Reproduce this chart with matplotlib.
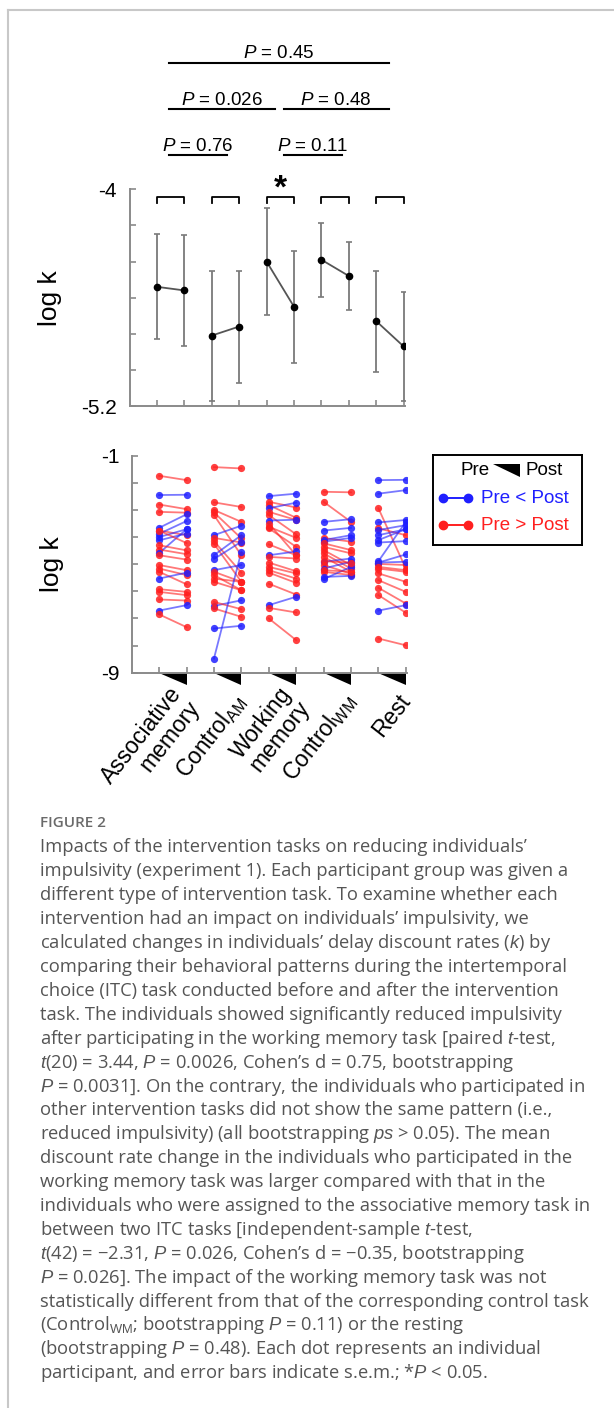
import numpy as np
import matplotlib
matplotlib.use("Agg")
import matplotlib.pyplot as plt
from matplotlib.patches import Polygon
from matplotlib.lines import Line2D

plt.rcParams['font.family'] = ['Liberation Sans', 'DejaVu Sans']
plt.rcParams['axes.unicode_minus'] = False
plt.rcParams['mathtext.fontset'] = 'custom'
plt.rcParams['mathtext.rm'] = 'Liberation Sans'
plt.rcParams['mathtext.it'] = 'Liberation Sans:italic'
plt.rcParams['mathtext.bf'] = 'Liberation Sans:bold'

# group names (x tick labels of the lower panel)
groups = ["Associative\nmemory", "Control$_{\\mathrm{AM}}$", "Working\nmemory",
          "Control$_{\\mathrm{WM}}$", "Rest"]

# upper panel: group mean log k and s.e.m.
mean_pre  = [-4.54, -4.81, -4.40, -4.39, -4.73]
mean_post = [-4.56, -4.76, -4.65, -4.48, -4.87]
sem_pre   = [0.29, 0.36, 0.295, 0.205, 0.28]
sem_post  = [0.305, 0.31, 0.31, 0.19, 0.30]

top_yticks  = [-5.2, -5.0, -4.8, -4.6, -4.4, -4.2, -4.0]
top_ylabels = ["-5.2", "", "", "", "", "", "-4"]

# comparisons: label, x from, x to, line y, text y (top panel data units)
comparisons = [
    ("0.45",  1.44, 9.47, -3.302, -3.272),
    ("0.026", 1.44, 5.30, -3.557, -3.535),
    ("0.48",  5.62, 9.47, -3.557, -3.535),
    ("0.76",  1.44, 3.57, -3.812, -3.788),
    ("0.11",  5.62, 7.74, -3.812, -3.788),
]
signif_group = 2

# lower panel: individual log k, pre and post
am_pre   = [-1.74, -2.45, -2.80, -3.07, -3.66, -3.76, -3.88, -4.00, -4.12, -4.46, -4.59, -5.03,
            -5.16, -5.28, -5.53, -5.92, -6.02, -6.30, -6.71, -6.85, -3.76, -4.30, -4.67]
am_post  = [-1.90, -2.44, -2.97, -3.10, -3.16, -3.93, -3.41, -3.71, -3.87, -4.63, -3.71, -5.22,
            -5.40, -5.74, -5.31, -6.02, -6.14, -6.34, -6.51, -7.32, -4.22, -4.49, -4.83]
cam_pre  = [-1.42, -2.72, -3.00, -3.09, -3.19, -3.93, -4.03, -4.15, -4.25, -4.67, -4.81,
            -5.22, -5.28, -5.40, -5.53, -6.54, -6.39, -6.63, -7.37, -8.48, -5.65]
cam_post = [-1.47, -2.89, -3.44, -4.05, -4.67, -3.58, -4.20, -5.31, -5.65, -3.93, -4.17,
            -5.03, -5.65, -5.96, -5.65, -6.33, -6.66, -6.94, -7.27, -4.54, -5.96]
wm_pre   = [-2.49, -2.70, -2.82, -2.94, -3.07, -3.19, -3.39, -3.62, -3.68, -4.27, -4.67,
            -4.94, -5.10, -5.22, -5.31, -5.72, -6.51, -6.61, -7.00, -4.73, -3.50]
wm_post  = [-2.40, -2.91, -3.29, -2.73, -3.37, -3.90, -3.36, -4.03, -4.36, -4.67, -4.53,
            -5.26, -5.34, -5.53, -5.69, -6.12, -6.20, -6.78, -7.80, -4.79, -4.67]
cwm_pre  = [-2.33, -2.70, -3.44, -3.76, -4.03, -4.11, -4.17, -4.23, -4.36, -4.48,
            -4.60, -4.73, -4.91, -5.03, -5.16, -5.28, -5.47, -5.55, -4.89, -5.22]
cwm_post = [-2.35, -3.44, -3.34, -3.66, -4.17, -3.93, -4.03, -4.48, -4.60, -5.03,
            -5.16, -5.28, -4.79, -5.35, -4.91, -5.40, -5.43, -5.10, -4.94, -5.28]
rest_pre  = [-1.90, -2.40, -2.94, -3.46, -3.68, -3.74, -3.93, -4.11, -4.20, -4.89, -4.94,
             -4.99, -4.94, -5.16, -5.34, -5.59, -5.87, -6.14, -6.71, -7.74, -5.10]
rest_post = [-1.89, -2.27, -5.16, -3.37, -3.93, -3.56, -3.71, -3.71, -4.15, -3.44, -4.64,
             -5.03, -4.91, -5.28, -5.65, -6.02, -6.45, -6.79, -6.51, -7.99, -5.22]

pre_sets  = [am_pre, cam_pre, wm_pre, cwm_pre, rest_pre]
post_sets = [am_post, cam_post, wm_post, cwm_post, rest_post]

bot_yticks  = [-9, -8, -7, -6, -5, -4, -3, -2, -1]
bot_ylabels = ["-9", "", "", "", "", "", "", "", "-1"]

caption_title = "FIGURE 2"
caption_lines = [
    "Impacts of the intervention tasks on reducing individuals\u2019",
    "impulsivity (experiment 1). Each participant group was given a",
    "different type of intervention task. To examine whether each",
    "intervention had an impact on individuals\u2019 impulsivity, we",
    "calculated changes in individuals\u2019 delay discount rates ($k$) by",
    "comparing their behavioral patterns during the intertemporal",
    "choice (ITC) task conducted before and after the intervention",
    "task. The individuals showed significantly reduced impulsivity",
    "after participating in the working memory task [paired $t$-test,",
    "$t$(20) = 3.44, $P$ = 0.0026, Cohen\u2019s d = 0.75, bootstrapping",
    "$P$ = 0.0031]. On the contrary, the individuals who participated in",
    "other intervention tasks did not show the same pattern (i.e.,",
    "reduced impulsivity) (all bootstrapping $ps$ > 0.05). The mean",
    "discount rate change in the individuals who participated in the",
    "working memory task was larger compared with that in the",
    "individuals who were assigned to the associative memory task in",
    "between two ITC tasks [independent-sample $t$-test,",
    "$t$(42) = \u22122.31, $P$ = 0.026, Cohen\u2019s d = \u22120.35, bootstrapping",
    "$P$ = 0.026]. The impact of the working memory task was not",
    "statistically different from that of the corresponding control task",
    "(Control$_{\\mathrm{WM}}$; bootstrapping $P$ = 0.11) or the resting",
    "(bootstrapping $P$ = 0.48). Each dot represents an individual",
    "participant, and error bars indicate s.e.m.; *$P$ < 0.05.",
]

W, H = 614, 1408
AX_GRAY = '#8a8a8a'


def px_rect(left, top, width, height):
    return [left / W, 1 - (top + height) / H, width / W, height / H]


def style_axes(ax, yticks, ylabels, ylim):
    ax.set_xlim(0, 10.05)
    ax.set_ylim(ylim)
    for s in ['top', 'right']:
        ax.spines[s].set_visible(False)
    for s in ['left', 'bottom']:
        ax.spines[s].set_color(AX_GRAY)
        ax.spines[s].set_linewidth(1.4)
    ax.set_yticks(yticks)
    ax.set_yticklabels(ylabels)
    ax.set_xticks(np.arange(1, 11))
    ax.set_xticklabels([])
    ax.tick_params(direction='in', length=4, width=1.2, color=AX_GRAY,
                   labelsize=15, pad=9)
    ax.set_ylabel("log k", fontsize=19)
    ax.yaxis.set_label_coords(-0.245, 0.5)


fig = plt.figure(figsize=(W / 100, H / 100), dpi=100)

# frame
fig.add_artist(Line2D([8 / W, 1], [1 - 10 / H] * 2, color='#c8c8c8', lw=1.5))
fig.add_artist(Line2D([8 / W] * 2, [0, 1 - 10 / H], color='#c8c8c8', lw=1.5))

# ---- upper panel ----
ax1 = fig.add_axes(px_rect(129.5, 189.3, 275.5, 216.7))
style_axes(ax1, top_yticks, top_ylabels, (-5.2, -4.0))

for i in range(len(groups)):
    xs = [2 * i + 1, 2 * i + 2]
    ys = [mean_pre[i], mean_post[i]]
    ax1.errorbar(xs, ys, yerr=[sem_pre[i], sem_post[i]], fmt='none',
                 ecolor='#7a7a7a', elinewidth=1.3, capsize=2, capthick=1.2, zorder=2)
    ax1.plot(xs, ys, '-', color='#555555', lw=1.3, zorder=3)
    ax1.plot(xs, ys, 'o', color='black', ms=4.5, zorder=4)
    # bracket above each pair
    ax1.plot([xs[0], xs[0], xs[1], xs[1]], [-4.075, -4.04, -4.04, -4.075],
             color='black', lw=1.3, clip_on=False)

ax1.text(2 * signif_group + 1.5, -4.045, "*", ha='center', va='baseline',
         fontsize=24, fontweight='bold')

for label, x0, x1, yl, yt in comparisons:
    ax1.plot([x0, x1], [yl, yl], color='black', lw=1.5, clip_on=False)
    ax1.text((x0 + x1) / 2, yt, "$P$ = " + label, ha='center', va='baseline',
             fontsize=13.5, clip_on=False)

# ---- lower panel ----
ax2 = fig.add_axes(px_rect(131.7, 455.7, 275.5, 217.0))
style_axes(ax2, bot_yticks, bot_ylabels, (-9, -1))

for i, (pre, post) in enumerate(zip(pre_sets, post_sets)):
    xp, xq = 2 * i + 1, 2 * i + 2
    for a, b in zip(pre, post):
        c = '#1f1fff' if a < b else '#ff1f1f'
        ax2.plot([xp, xq], [a, b], '-', color=c, lw=1.3, alpha=0.6, zorder=2)
        ax2.plot([xp, xq], [a, b], 'o', color=c, ms=5.2, mec='none', alpha=0.85, zorder=3)
    ax2.add_patch(Polygon([(xp, -9), (xq, -9), (xq, -9.47)], closed=True,
                          facecolor='black', edgecolor='none', clip_on=False))
    ax2.text(xq, -0.112, groups[i], transform=ax2.get_xaxis_transform(),
             ha='right', va='center', rotation=52, rotation_mode='anchor',
             fontsize=16.5, linespacing=1.0, multialignment='right')

# legend box
lax = fig.add_axes(px_rect(432.7, 455, 149, 90))
lax.set_xlim(0, 1)
lax.set_ylim(0, 1)
lax.set_xticks([])
lax.set_yticks([])
for s in lax.spines.values():
    s.set_linewidth(1.4)
    s.set_color('black')
lax.text(0.385, 0.83, "Pre", ha='right', va='center', fontsize=13.5)
lax.add_patch(Polygon([(0.403, 0.897), (0.586, 0.897), (0.586, 0.759)],
                      closed=True, facecolor='black', edgecolor='none'))
lax.text(0.626, 0.83, "Post", ha='left', va='center', fontsize=13.5)
for yrow, c, txt in [(0.52, '#1f1fff', "Pre < Post"), (0.22, '#ff1f1f', "Pre > Post")]:
    lax.plot([0.069, 0.237], [yrow, yrow], '-o', color=c, lw=1.4, ms=6)
    lax.text(0.324, yrow, txt, ha='left', va='center', fontsize=13.5, color=c)

# ---- caption ----
fig.text(40 / W, 1 - 826.7 / H, caption_title, fontfamily=['Open Sans', 'DejaVu Sans'],
         fontsize=11, fontweight='semibold', color='#6a6a6a', va='baseline')
for k, line in enumerate(caption_lines):
    base = 852.5 + k * 23.9
    fig.text(40 / W, 1 - base / H, line, fontfamily=['Open Sans', 'DejaVu Sans'],
             fontsize=13.2, color='#555555', va='baseline')

fig.savefig("out.png", dpi=100)
plt.close('all')
